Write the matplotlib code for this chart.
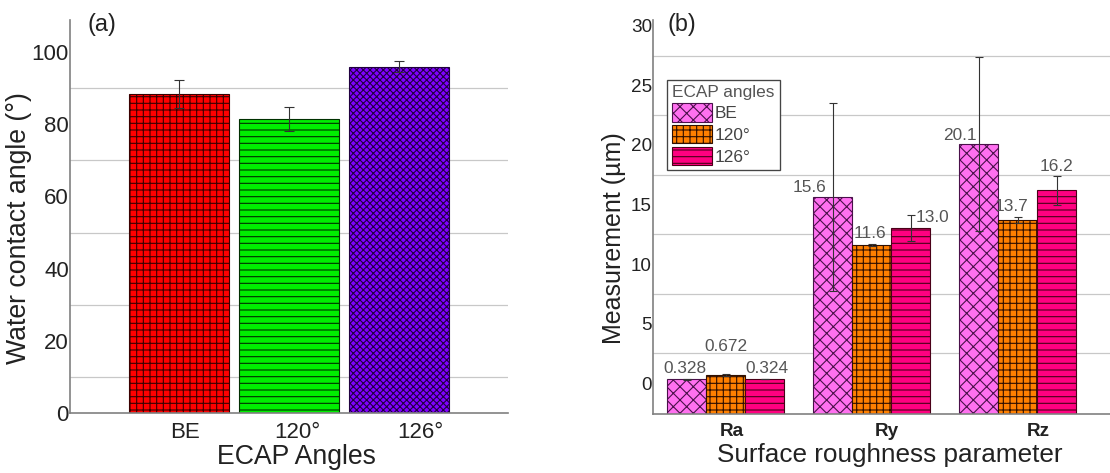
import matplotlib
matplotlib.use("Agg")
import matplotlib.pyplot as plt
import numpy as np

plt.rcParams['font.family'] = ['Liberation Sans', 'DejaVu Sans']
plt.rcParams['hatch.linewidth'] = 1.0

# panel (a) data
angles = ["BE", "120°", "126°"]
contact = [88.4, 81.5, 96.0]
contact_err = [4.0, 3.4, 1.5]

# panel (b) data
params = ["Ra", "Ry", "Rz"]
groups = ["BE", "120°", "126°"]
rough = {
    "BE":   [0.328, 15.6, 20.1],
    "120°": [0.672, 11.6, 13.7],
    "126°": [0.324, 13.0, 16.2],
}
rough_err = {
    "BE":   [0.05, 7.9, 7.3],
    "120°": [0.06, 0.1, 0.25],
    "126°": [0.02, 1.1, 1.2],
}
rough_txt = {
    "BE":   ["0.328", "15.6", "20.1"],
    "120°": ["0.672", "11.6", "13.7"],
    "126°": ["0.324", "13.0", "16.2"],
}
# label offsets from bar centre / top (dx in bar units, dy in data)
txt_dx = {"BE": [-0.01, -0.16, -0.13], "120°": [0.0, -0.01, -0.045], "126°": [0.017, 0.147, 0.0]}
txt_dy = {"BE": [0.93, 0.85, 0.7], "120°": [2.36, 1.0, 1.1], "126°": [0.94, 0.9, 2.0]}
# the tick labels sit a bit right of the bars in the original
a_tick_shift = [0.055, 0.08, 0.19]
b_tick_shift = [0.04, 0.1, 0.14]

W, H = 1110, 473
DPI = 80
fig = plt.figure(figsize=(W / DPI, H / DPI), dpi=DPI)

spine_c = '#808080'
grid_c = '#c8c8c8'
txt_c = '#222222'

# ---------------- (a)
ax1 = fig.add_axes([70 / W, 60 / H, 438 / W, 393 / H])
a_cols = ['#ff0000', '#00ee00', '#8000ff']
a_edge = ['#3a0000', '#003000', '#200040']
a_hatch = ['++', '--', 'xxxx']
x1 = np.arange(len(angles))
for i in range(len(angles)):
    ax1.bar(x1[i], contact[i], width=0.91, color=a_cols[i], edgecolor=a_edge[i],
            hatch=a_hatch[i], linewidth=1.0, zorder=2)
    ax1.errorbar(x1[i], contact[i], yerr=contact_err[i], color='#333333',
                 capsize=4.5, elinewidth=1.0, capthick=1.0, zorder=3)
ax1.set_xlim(-0.99, 2.99)
ax1.set_ylim(0, 108.9)
ax1.set_yticks([0, 20, 40, 60, 80, 100])
ax1.set_yticks([10, 30, 50, 70, 90], minor=True)
ax1.set_xticks(x1 + np.array(a_tick_shift))
ax1.set_xticklabels(angles)
ax1.grid(which='minor', axis='y', color=grid_c, linewidth=1.1)
ax1.set_axisbelow(True)
ax1.tick_params(axis='both', which='both', length=0, labelsize=20, colors=txt_c)
ax1.tick_params(axis='y', pad=1)
ax1.tick_params(axis='x', pad=8)
ax1.set_ylabel("Water contact angle (°)", fontsize=24, color=txt_c, labelpad=0)
ax1.yaxis.label.set_y(0.47)
ax1.set_xlabel("ECAP Angles", fontsize=24, color=txt_c, labelpad=1)
ax1.xaxis.label.set_x(0.518)
for s in ['top', 'right']:
    ax1.spines[s].set_visible(False)
for s in ['left', 'bottom']:
    ax1.spines[s].set_color(spine_c)
    ax1.spines[s].set_linewidth(1.5)

# ---------------- (b)
ybot = -2.6
ax2 = fig.add_axes([653 / W, 59 / H, 457 / W, 394 / H])
b_cols = {'BE': '#ff70f0', '120°': '#ff8000', '126°': '#ff0080'}
b_edge = {'BE': '#4a104a', '120°': '#301000', '126°': '#4a0018'}
b_hatch = {'BE': 'xx', '120°': '++', '126°': '--'}
x2 = np.arange(len(params))
bw = 0.267
for j, g in enumerate(groups):
    xs = x2 + (j - 1) * bw
    vals = np.array(rough[g])
    ax2.bar(xs, vals - ybot, bottom=ybot, width=bw, color=b_cols[g], edgecolor=b_edge[g],
            hatch=b_hatch[g], linewidth=1.0, zorder=2, label=g)
    ax2.errorbar(xs, vals, yerr=rough_err[g], fmt='none', ecolor='#333333',
                 capsize=4, elinewidth=1.0, capthick=1.0, zorder=3)
    for k in range(len(params)):
        ax2.text(xs[k] + txt_dx[g][k], vals[k] + txt_dy[g][k], rough_txt[g][k],
                 ha='center', va='center', fontsize=15.5, color='#555555', zorder=4)
ax2.set_xlim(-0.497, 2.63)
ax2.set_ylim(ybot, 30.5)
ax2.set_yticks([0, 5, 10, 15, 20, 25, 30])
ax2.set_yticks([2.5, 7.5, 12.5, 17.5, 22.5, 27.5], minor=True)
ax2.set_xticks(x2 + np.array(b_tick_shift))
ax2.set_xticklabels(params, fontweight='bold')
ax2.grid(which='minor', axis='y', color=grid_c, linewidth=1.1)
ax2.set_axisbelow(True)
ax2.tick_params(axis='both', which='both', length=0, colors=txt_c)
ax2.tick_params(axis='y', labelsize=17, pad=1)
ax2.tick_params(axis='x', labelsize=17, pad=8)
ax2.set_ylabel("Measurement (µm)", fontsize=22.5, color=txt_c, labelpad=4)
ax2.yaxis.label.set_y(0.447)
ax2.set_xlabel("Surface roughness parameter", fontsize=23.5, color=txt_c, labelpad=3)
ax2.xaxis.label.set_x(0.518)
for s in ['top', 'right']:
    ax2.spines[s].set_visible(False)
for s in ['left', 'bottom']:
    ax2.spines[s].set_color(spine_c)
    ax2.spines[s].set_linewidth(1.5)

leg = ax2.legend(title="ECAP angles", loc='upper left', bbox_to_anchor=(0.031, 0.848),
                 borderaxespad=0, fontsize=15.5, title_fontsize=15.5, fancybox=False,
                 framealpha=1, edgecolor='#444444', handlelength=2.3, handleheight=1.25,
                 handletextpad=0.15, labelspacing=0.2, borderpad=0.3,
                 alignment='left', labelcolor='#444444')
leg.get_title().set_color('#555555')
leg.get_frame().set_linewidth(1.2)

fig.text(102 / W, 1 - 25 / H, "(a)", fontsize=21, ha='center', va='center', color=txt_c)
fig.text(682 / W, 1 - 25 / H, "(b)", fontsize=21, ha='center', va='center', color=txt_c)

fig.savefig("out.png", dpi=DPI)
